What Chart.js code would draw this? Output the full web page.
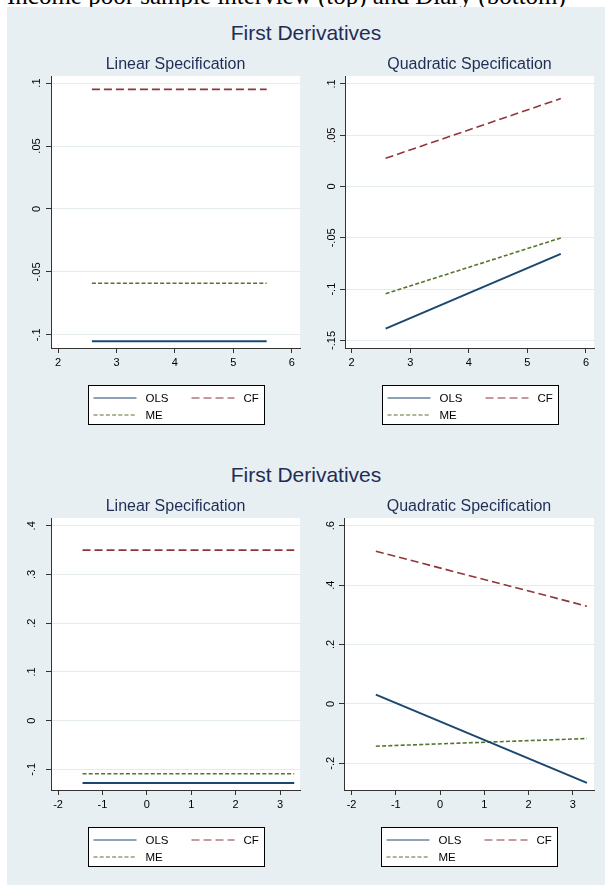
<!DOCTYPE html>
<html>
<head>
<meta charset="utf-8">
<title>First Derivatives</title>
<script src="https://cdn.jsdelivr.net/npm/chart.js@4.4.1/dist/chart.umd.min.js"></script>
<style>
  body { margin: 0; width: 613px; height: 888px; position: relative; overflow: hidden; background: #fff; font-family: "Liberation Sans", Arial, sans-serif; }
  .caption { position: absolute; left: 7px; top: -17px; font: 25px/25px "Liberation Serif", "Times New Roman", serif; color: #000; white-space: nowrap; }
  .panel { position: absolute; left: 7px; top: 7px; width: 598px; height: 878px; background: #e8eff2; }
  .heading { position: absolute; left: 0; width: 598px; text-align: center; font-size: 21px; line-height: 24px; color: #1f2d55; }
  .cell { position: absolute; width: 299px; height: 392px; }
</style>
</head>
<body>
<div class="caption">Income poor sample interview (top) and Diary (bottom)</div>
<div class="panel">
  <div class="heading" style="top:14px">First Derivatives</div>
  <canvas class="cell" id="linTop" width="299" height="392" style="left:0;top:37px"></canvas>
  <canvas class="cell" id="quadTop" width="299" height="392" style="left:299px;top:37px"></canvas>
  <div class="heading" style="top:456px">First Derivatives</div>
  <canvas class="cell" id="linBot" width="299" height="392" style="left:0;top:479px"></canvas>
  <canvas class="cell" id="quadBot" width="299" height="392" style="left:299px;top:479px"></canvas>
</div>
<script>
// start and end of the support of the fitted derivative lines
const xTop = [2.58, 5.57];
const xBot = [-1.45, 3.32];

// interview sample
const linTopOLS = [-0.105, -0.105];
const linTopCF = [0.095, 0.095];
const linTopME = [-0.059, -0.059];
const quadTopOLS = [-0.1385, -0.0656];
const quadTopCF = [0.0276, 0.0858];
const quadTopME = [-0.1045, -0.0501];

// diary sample
const linBotOLS = [-0.128, -0.128];
const linBotCF = [0.35, 0.35];
const linBotME = [-0.109, -0.109];
const quadBotOLS = [0.031, -0.266];
const quadBotCF = [0.514, 0.329];
const quadBotME = [-0.1425, -0.1166];

const seriesNames = ['OLS', 'CF', 'ME'];

// axis ticks
const xTicksTop = [2, 3, 4, 5, 6];
const xTicksBot = [-2, -1, 0, 1, 2, 3];
const yTicksLinTop = [-0.1, -0.05, 0, 0.05, 0.1];
const yTicksQuadTop = [-0.15, -0.1, -0.05, 0, 0.05, 0.1];
const yTicksLinBot = [-0.1, 0, 0.1, 0.2, 0.3, 0.4];
const yTicksQuadBot = [-0.2, 0, 0.2, 0.4, 0.6];

Chart.defaults.font.family = '"Liberation Sans", Arial, sans-serif';
Chart.defaults.color = '#000';

// stata-ish line styles: navy solid, maroon dash, green short dash
const STYLES = {
    OLS: { color: '#1a476f', width: 2, dash: [] },
    CF: { color: '#90353b', width: 1.6, dash: [8, 4] },
    ME: { color: '#55752f', width: 1.6, dash: [4, 2.2] },
};

// strip the leading zero like stata does (.05, -.1)
function fmt(v) {
    return String(v).replace(/^(-?)0\./, '$1.');
}

// white plot region on the bluish graph region
const plotBackground = {
    id: 'plotBackground',
    beforeDraw(chart) {
        const { ctx, chartArea } = chart;
        ctx.save();
        ctx.fillStyle = '#fff';
        ctx.fillRect(chartArea.left, chartArea.top, chartArea.right - chartArea.left, chartArea.bottom - chartArea.top);
        ctx.restore();
    }
};

// boxed two column legend under the plot
const boxLegend = {
    id: 'boxLegend',
    afterDraw(chart, args, opts) {
        const { ctx, chartArea } = chart;
        const left = Math.round((chartArea.left + chartArea.right) / 2 - opts.width / 2) + 0.5;
        const top = Math.round(chartArea.bottom + opts.gap) + 0.5;
        ctx.save();
        ctx.fillStyle = '#fff';
        ctx.fillRect(left, top, opts.width, opts.height);
        ctx.strokeStyle = '#000';
        ctx.lineWidth = 1;
        ctx.strokeRect(left, top, opts.width, opts.height);
        ctx.font = opts.font;
        ctx.textBaseline = 'middle';
        chart.data.datasets.forEach((ds, i) => {
            const x0 = left + opts.colX[i % 2];
            const y = Math.round(top + opts.rowY[Math.floor(i / 2)]);
            ctx.strokeStyle = ds.borderColor;
            ctx.lineWidth = opts.lineWidth;
            ctx.setLineDash(ds.borderDash);
            ctx.beginPath();
            ctx.moveTo(x0, y);
            ctx.lineTo(x0 + opts.sample, y);
            ctx.stroke();
            ctx.setLineDash([]);
            ctx.fillStyle = '#000';
            ctx.fillText(ds.label, x0 + opts.textGap, y + 0.5);
        });
        ctx.restore();
    }
};

function makeChart(id, title, xs, series, xTicks, yTicks, xRange, yRange, yAxisWidth, rightPad, yLabelPad) {
    const datasets = series.map((vals, i) => {
        const st = STYLES[seriesNames[i]];
        return {
            label: seriesNames[i],
            data: xs.map((x, j) => ({ x: x, y: vals[j] })),
            borderColor: st.color,
            borderWidth: st.width,
            borderDash: st.dash,
            pointRadius: 0,
            fill: false,
            tension: 0,
        };
    });

    return new Chart(document.getElementById(id), {
        type: 'line',
        data: { datasets: datasets },
        plugins: [plotBackground, boxLegend],
        options: {
            responsive: false,
            animation: false,
            layout: { padding: { left: 0, right: rightPad, top: 0, bottom: 60 } },
            plugins: {
                legend: { display: false },
                tooltip: { enabled: false },
                title: {
                    display: true,
                    text: title,
                    fullSize: false,
                    color: '#1f2d55',
                    font: { size: 16, weight: 'normal' },
                    padding: { top: 11.4, bottom: 1.4 },
                },
                boxLegend: {
                    width: 176, height: 39, gap: 37,
                    colX: [5, 103], rowY: [12.5, 29.5],
                    sample: 43, textGap: 52, lineWidth: 1.2,
                    font: '11.5px "Liberation Sans", Arial, sans-serif',
                },
            },
            scales: {
                x: {
                    type: 'linear',
                    min: xRange[0],
                    max: xRange[1],
                    afterBuildTicks: s => { s.ticks = xTicks.map(v => ({ value: v })); },
                    afterFit: s => { s.height = 28; },
                    grid: { drawOnChartArea: false, drawTicks: true, tickLength: 5, tickColor: '#333' },
                    border: { display: true, color: '#333', width: 1 },
                    ticks: { font: { size: 11 }, padding: 3, maxRotation: 0, autoSkip: false, callback: v => fmt(v) },
                },
                y: {
                    type: 'linear',
                    min: yRange[0],
                    max: yRange[1],
                    afterBuildTicks: s => { s.ticks = yTicks.map(v => ({ value: v })); },
                    afterFit: s => { s.width = yAxisWidth; },
                    grid: { color: '#e3ebef', lineWidth: 1, drawTicks: true, tickLength: 5, tickColor: '#333' },
                    border: { display: true, color: '#333', width: 1 },
                    ticks: {
                        font: { size: 11 },
                        minRotation: 90,
                        maxRotation: 90,
                        crossAlign: 'center',
                        padding: yLabelPad,
                        autoSkip: false,
                        callback: v => fmt(v),
                    },
                },
            },
        },
    });
}

makeChart('linTop', 'Linear Specification', xTop, [linTopOLS, linTopCF, linTopME],
    xTicksTop, yTicksLinTop, [1.88, 6.14], [-0.1104, 0.1056], 44, 6, 0);
makeChart('quadTop', 'Quadratic Specification', xTop, [quadTopOLS, quadTopCF, quadTopME],
    xTicksTop, yTicksQuadTop, [1.886, 6.137], [-0.1574, 0.1078], 39, 11, -1);
makeChart('linBot', 'Linear Specification', xBot, [linBotOLS, linBotCF, linBotME],
    xTicksBot, yTicksLinBot, [-2.16, 3.45], [-0.1425, 0.416], 44, 6, 8);
makeChart('quadBot', 'Quadratic Specification', xBot, [quadBotOLS, quadBotCF, quadBotME],
    xTicksBot, yTicksQuadBot, [-2.17, 3.48], [-0.29, 0.626], 38, 11, 2);
</script>
</body>
</html>
